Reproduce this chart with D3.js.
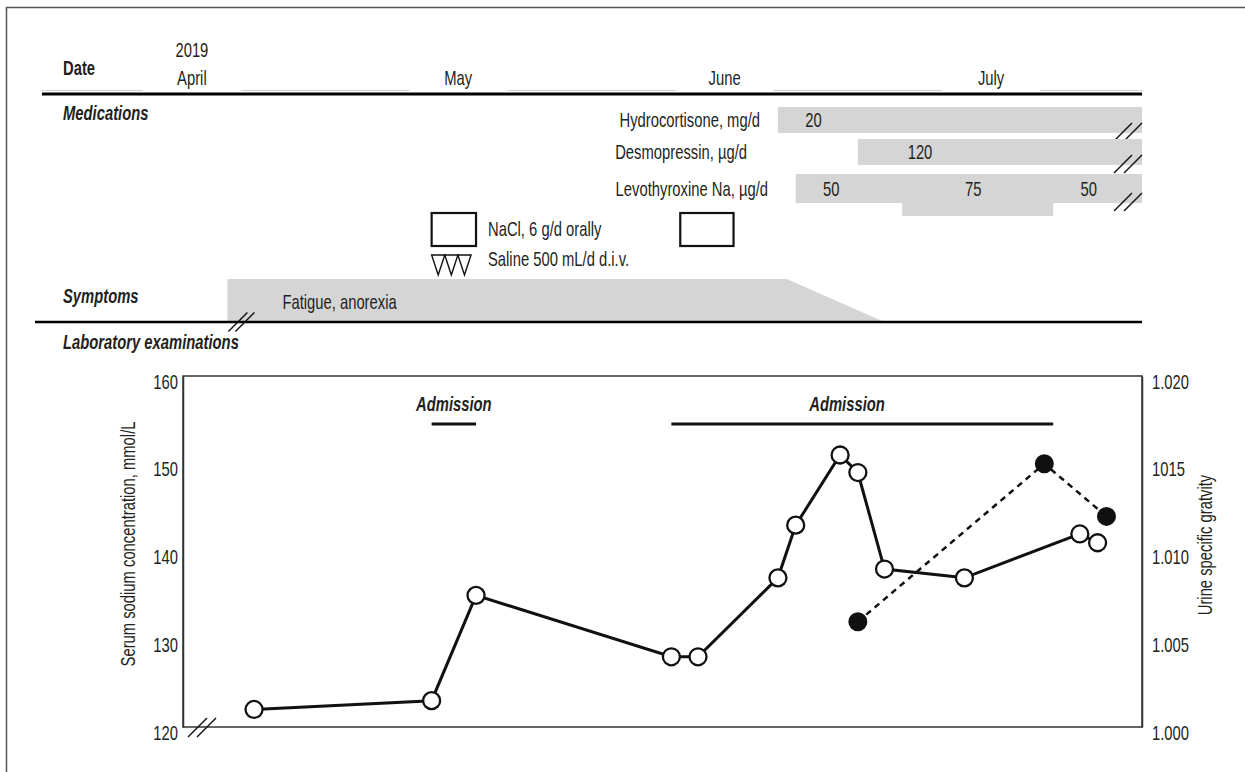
<!DOCTYPE html>
<html>
<head>
<meta charset="utf-8">
<script src="https://cdn.jsdelivr.net/npm/d3@7"></script>
<style>
  body { margin: 0; background: #fff; }
  text { font-family: "Liberation Sans", Arial, sans-serif; font-size: 20px; fill: #231f20; }
  .b { font-weight: bold; }
  .bi { font-weight: bold; font-style: italic; }
</style>
</head>
<body>
<script>
// ---- data ----
const monthLabels = ["April", "May", "June", "July"];
const monthDates = ["2019-04-16", "2019-05-16", "2019-06-15", "2019-07-15"];

const medNames = ["Hydrocortisone, mg/d", "Desmopressin, \u00b5g/d", "Levothyroxine Na, \u00b5g/d"];
const medStart = ["2019-06-21", "2019-06-30", "2019-06-23"];
const doseLabels = [["20"], ["120"], ["50", "75", "50"]];
const doseDates = [["2019-06-25"], ["2019-07-07"], ["2019-06-27", "2019-07-13", "2019-07-26"]];
const levoHighDose = ["2019-07-05", "2019-07-22"];

const naclStart = ["2019-05-13", "2019-06-10"];
const naclEnd = ["2019-05-18", "2019-06-16"];
const salineSpan = ["2019-05-13", "2019-05-18"];
const salineDays = 3;

const symptomDates = ["2019-04-20", "2019-06-22", "2019-07-03"];

const admissionStart = ["2019-05-13", "2019-06-09"];
const admissionEnd = ["2019-05-18", "2019-07-22"];

const sodiumDates = ["2019-04-23", "2019-05-13", "2019-05-18", "2019-06-09", "2019-06-12", "2019-06-21", "2019-06-23",
  "2019-06-28", "2019-06-30", "2019-07-03", "2019-07-12", "2019-07-25", "2019-07-27"];
const sodiumValues = [122, 123, 135, 128, 128, 137, 143, 151, 149, 138, 137, 142, 141];

const urineDates = ["2019-06-30", "2019-07-21", "2019-07-28"];
const urineValues = [1.006, 1.015, 1.012];

const sodiumTicks = [120, 130, 140, 150, 160];
const urineTicks = [1.000, 1.005, 1.010, 1.015, 1.020];
const urineTickLabels = ["1.000", "1.005", "1.010", "1015", "1.020"];

// ---- setup ----
const parse = d3.timeParse("%Y-%m-%d");
const W = 1245, H = 772;
const SX = 0.74; // squeeze text horizontally, like a condensed face
const svg = d3.select("body").append("svg").attr("width", W).attr("height", H);

const x = d3.scaleTime()
  .domain([parse("2019-04-15"), parse("2019-08-01")])
  .range([183, 1142]);
const xd = s => x(parse(s));
const xEnd = x.range()[1];

const ySod = d3.scaleLinear().domain([120, 160]).range([727, 376]);
const yUr = d3.scaleLinear().domain([1.000, 1.020]).range([727, 376]);

const grey = "#d5d5d5";

function label(px, py, str, cls, anchor, rot) {
  return svg.append("text")
    .attr("class", cls || null)
    .attr("text-anchor", anchor || "start")
    .attr("transform", "translate(" + px + "," + py + ")" + (rot ? " rotate(" + rot + ")" : "") + " scale(" + SX + ",1)")
    .text(str);
}

// page frame
svg.append("line").attr("x1", 6.5).attr("y1", 7).attr("x2", 6.5).attr("y2", H).attr("stroke", "#555").attr("stroke-width", 1.5);
svg.append("line").attr("x1", 6).attr("y1", 7.5).attr("x2", W).attr("y2", 7.5).attr("stroke", "#555").attr("stroke-width", 1.5);

function breakMark(cx, cy, len, gap) {
  [-gap / 2, gap / 2].forEach(function(o) {
    svg.append("line")
      .attr("x1", cx + o - len / 2).attr("y1", cy + len / 2)
      .attr("x2", cx + o + len / 2).attr("y2", cy - len / 2)
      .attr("stroke", "#111").attr("stroke-width", 1.4);
  });
}

// ---- header ----
label(63, 75, "Date", "b");
label(xd(monthDates[0]), 57, "2019", null, "middle");
monthLabels.forEach(function(m, i) {
  label(xd(monthDates[i]), 85, m, null, "middle");
});

// faint rule with gaps under month labels
var edges = [42];
monthDates.forEach(function(d) { edges.push(xd(d) - 49, xd(d) + 49); });
edges.push(xEnd);
for (var i = 0; i < edges.length; i += 2) {
  svg.append("line").attr("x1", edges[i]).attr("x2", edges[i + 1]).attr("y1", 90.5).attr("y2", 90.5)
    .attr("stroke", "#cfcfcf").attr("stroke-width", 1.2);
}
svg.append("line").attr("x1", 42).attr("x2", xEnd).attr("y1", 94).attr("y2", 94)
  .attr("stroke", "#000").attr("stroke-width", 3);

// ---- medications ----
label(63, 120, "Medications", "bi");

const rowTop = [107, 139, 174];
const rowH = [26, 26, 29];
const labelRight = [760, 747, 768];

medNames.forEach(function(name, i) {
  svg.append("rect")
    .attr("x", xd(medStart[i])).attr("y", rowTop[i])
    .attr("width", xEnd - xd(medStart[i])).attr("height", rowH[i])
    .attr("fill", grey);
  var base = rowTop[i] + rowH[i] / 2 + 7;
  label(labelRight[i], base, name, null, "end");
  doseLabels[i].forEach(function(lbl, j) {
    label(xd(doseDates[i][j]), base, lbl, null, "middle");
  });
  breakMark(xEnd - 14, rowTop[i] + rowH[i] - 1, 18, 10);
});
// higher levothyroxine dose drops a little lower
svg.append("rect")
  .attr("x", xd(levoHighDose[0])).attr("y", rowTop[2] + rowH[2] - 1)
  .attr("width", xd(levoHighDose[1]) - xd(levoHighDose[0])).attr("height", 14)
  .attr("fill", grey);

// NaCl boxes
naclStart.forEach(function(s, i) {
  svg.append("rect")
    .attr("x", xd(s)).attr("y", 213)
    .attr("width", xd(naclEnd[i]) - xd(s)).attr("height", 33)
    .attr("fill", "none").attr("stroke", "#111").attr("stroke-width", 2.2);
});
label(488, 236, "NaCl, 6 g/d orally");

// saline triangles
var s0 = xd(salineSpan[0]), s1 = xd(salineSpan[1]) - 5;
var tw = (s1 - s0) / salineDays;
d3.range(salineDays).forEach(function(k) {
  var a = s0 + k * tw;
  svg.append("path")
    .attr("d", "M" + a + ",255 L" + (a + tw) + ",255 L" + (a + tw / 2) + ",275 Z")
    .attr("fill", "none").attr("stroke", "#111").attr("stroke-width", 1.4);
});
label(488, 266, "Saline 500 mL/d d.i.v.");

// ---- symptoms ----
label(63, 303, "Symptoms", "bi");
svg.append("path")
  .attr("d", "M" + xd(symptomDates[0]) + ",279 L" + xd(symptomDates[1]) + ",279 L" +
    xd(symptomDates[2]) + ",322 L" + xd(symptomDates[0]) + ",322 Z")
  .attr("fill", grey);
label(xd(symptomDates[0]) + 55, 309, "Fatigue, anorexia");
svg.append("line").attr("x1", 35).attr("x2", xEnd).attr("y1", 322).attr("y2", 322)
  .attr("stroke", "#000").attr("stroke-width", 2.5);
breakMark(xd(symptomDates[0]) + 14, 322, 19, 7);

// ---- laboratory ----
label(63, 349, "Laboratory examinations", "bi");

svg.append("rect")
  .attr("x", x.range()[0]).attr("y", ySod.range()[1])
  .attr("width", xEnd - x.range()[0]).attr("height", ySod.range()[0] - ySod.range()[1])
  .attr("fill", "none").attr("stroke", "#333").attr("stroke-width", 1.5);

var axL = svg.append("g").attr("transform", "translate(" + x.range()[0] + ",0)")
  .call(d3.axisLeft(ySod).tickValues(sodiumTicks).tickSize(0).tickPadding(5 / SX).tickFormat(d3.format("d")));
var axR = svg.append("g").attr("transform", "translate(" + xEnd + ",0)")
  .call(d3.axisRight(yUr).tickValues(urineTicks).tickSize(0).tickPadding(10 / SX)
    .tickFormat(function(d, i) { return urineTickLabels[i]; }));
[axL, axR].forEach(function(g) {
  g.select(".domain").attr("stroke", "#333").attr("stroke-width", 1.5);
  g.selectAll("text").attr("font-family", null).attr("font-size", null)
    .attr("dy", "0.6em").attr("transform", "scale(" + SX + ",1)");
});

label(128, 544, "Serum sodium concentration, mmol/L", null, "middle", -90).attr("dy", "0.35em");
label(1205, 545, "Urine specific gratvity", null, "middle", -90).attr("dy", "0.35em");

breakMark(x.range()[0] + 19, 727.5, 19, 9);

// admissions
admissionStart.forEach(function(s, i) {
  var a = xd(s), b = xd(admissionEnd[i]);
  svg.append("line").attr("x1", a).attr("x2", b).attr("y1", 424).attr("y2", 424)
    .attr("stroke", "#111").attr("stroke-width", 3);
  label(i === 0 ? (a + b) / 2 : 847, 411, "Admission", "bi", "middle");
});

// series
const sodium = sodiumDates.map(function(d, i) { return { date: parse(d), v: sodiumValues[i] }; });
const urine = urineDates.map(function(d, i) { return { date: parse(d), v: urineValues[i] }; });

svg.append("path").datum(urine)
  .attr("d", d3.line().x(d => x(d.date)).y(d => yUr(d.v)))
  .attr("fill", "none").attr("stroke", "#111").attr("stroke-width", 2.5).attr("stroke-dasharray", "6,5");
svg.append("path").datum(sodium)
  .attr("d", d3.line().x(d => x(d.date)).y(d => ySod(d.v)))
  .attr("fill", "none").attr("stroke", "#111").attr("stroke-width", 3);

svg.selectAll("circle.na").data(sodium).enter().append("circle")
  .attr("class", "na")
  .attr("cx", d => x(d.date)).attr("cy", d => ySod(d.v)).attr("r", 8.5)
  .attr("fill", "#fff").attr("stroke", "#111").attr("stroke-width", 2.3);
svg.selectAll("circle.ur").data(urine).enter().append("circle")
  .attr("class", "ur")
  .attr("cx", d => x(d.date)).attr("cy", d => yUr(d.v)).attr("r", 9.5)
  .attr("fill", "#111");
</script>
</body>
</html>
